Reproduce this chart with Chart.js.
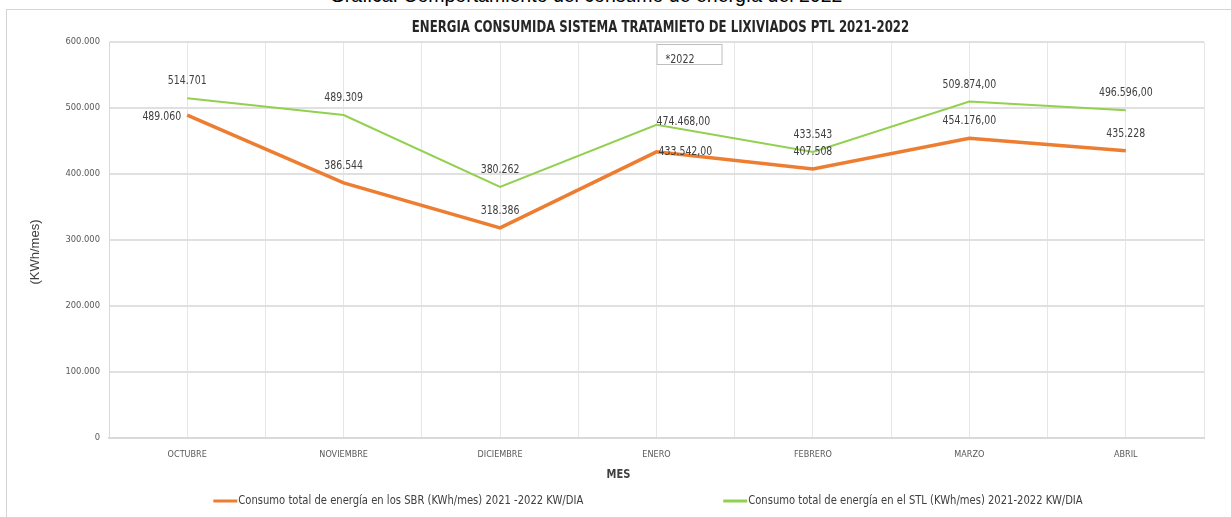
<!DOCTYPE html>
<html>
<head>
<meta charset="utf-8">
<script src="https://cdn.jsdelivr.net/npm/chart.js@4.4.0/dist/chart.umd.min.js"></script>
<style>
    html, body { margin: 0; padding: 0; background: #fff; overflow: hidden; }
    #wrap { position: relative; width: 1231px; height: 517px; overflow: hidden; }
    #caption { position: absolute; top: -16px; left: 0; width: 1172px; text-align: center;
               font: 19.5px 'Liberation Sans', Arial, sans-serif; color: #000; white-space: nowrap; }
    #frame { position: absolute; left: 6px; top: 9px; width: 1240px; height: 520px;
             border-top: 1px solid #d4d4d4; border-left: 1px solid #d4d4d4; }
    #chart { position: absolute; left: 0; top: 0; }
</style>
</head>
<body>
<div id="wrap">
    <div id="caption">Gráfica: Comportamiento del consumo de energía del 2022</div>
    <div id="frame"></div>
    <canvas id="chart" width="1231" height="517"></canvas>
</div>
<script>
// Data
const months = ['OCTUBRE', 'NOVIEMBRE', 'DICIEMBRE', 'ENERO', 'FEBRERO', 'MARZO', 'ABRIL'];
const sbrValues = [489060, 386544, 318386, 433542, 407508, 454176, 435228];
const stlValues = [514701, 489309, 380262, 474468, 433543, 509874, 496596];
const sbrLabels = ['489.060', '386.544', '318.386', '433.542,00', '407.508', '454.176,00', '435.228'];
const stlLabels = ['514.701', '489.309', '380.262', '474.468,00', '433.543', '509.874,00', '496.596,00'];
const yTickLabels = ['0', '100.000', '200.000', '300.000', '400.000', '500.000', '600.000'];

const narrow = "'Liberation Sans Narrow', 'DejaVu Sans Condensed', 'Liberation Sans', sans-serif";

// draw text squeezed horizontally (the source uses a tall condensed face)
function squishText(ctx, text, x, y, align, sx) {
    const w = ctx.measureText(text).width * sx;
    let left = x;
    if (align === 'center') left = x - w / 2;
    if (align === 'right') left = x - w;
    ctx.save();
    ctx.textAlign = 'left';
    ctx.translate(left, y);
    ctx.scale(sx, 1);
    ctx.fillText(text, 0, 0);
    ctx.restore();
    return w;
}

// Value labels next to each point
const pointLabels = {
    id: 'pointLabels',
    afterDatasetsDraw(chart, args, opts) {
        const ctx = chart.ctx;
        ctx.save();
        ctx.font = opts.font;
        ctx.fillStyle = opts.color;
        ctx.textBaseline = 'middle';
        chart.data.datasets.forEach(function(ds, di) {
            const meta = chart.getDatasetMeta(di);
            meta.data.forEach(function(pt, i) {
                const place = ds.labelPlace[i];
                const text = ds.valueLabels[i];
                if (place === 'left') {
                    squishText(ctx, text, pt.x - 6, pt.y + 2, 'right', opts.sx);
                } else if (place === 'right') {
                    squishText(ctx, text, pt.x, pt.y - 3, 'left', opts.sx);
                } else if (place === 'rightLow') {
                    squishText(ctx, text, pt.x + 2, pt.y, 'left', opts.sx);
                } else {
                    squishText(ctx, text, pt.x, pt.y - 17, 'center', opts.sx);
                }
            });
        });
        ctx.restore();
    }
};

// "*2022" note box above ENERO
const yearNote = {
    id: 'yearNote',
    afterDraw(chart, args, opts) {
        const ctx = chart.ctx;
        const x = chart.scales.x.getPixelForValue(opts.at);
        const top = chart.chartArea.top + 2;
        ctx.save();
        ctx.fillStyle = '#fff';
        ctx.fillRect(x, top, 65, 20);
        ctx.strokeStyle = '#bfbfbf';
        ctx.lineWidth = 1;
        ctx.strokeRect(x + 0.5, top + 0.5, 65, 20);
        ctx.font = '12.5px ' + narrow;
        ctx.fillStyle = '#404040';
        ctx.textBaseline = 'middle';
        squishText(ctx, opts.text, x + 9, top + 16, 'left', 0.85);
        ctx.restore();
    }
};

// Chart title and axis titles placed as in the reference
const captions = {
    id: 'captions',
    afterDraw(chart, args, opts) {
        const ctx = chart.ctx;
        const area = chart.chartArea;
        const mid = (area.left + area.right) / 2;
        ctx.save();
        ctx.textBaseline = 'middle';
        ctx.fillStyle = '#262626';
        ctx.font = 'bold 15px ' + narrow;
        squishText(ctx, opts.title, mid + 4, 28, 'center', 0.87);
        ctx.fillStyle = '#404040';
        ctx.font = 'bold 13px ' + narrow;
        squishText(ctx, opts.x, mid - 38, area.bottom + 37, 'center', 0.85);
        ctx.translate(35, (area.top + area.bottom) / 2 + 12);
        ctx.rotate(-Math.PI / 2);
        ctx.textAlign = 'center';
        ctx.font = "13px 'Liberation Sans', sans-serif";
        ctx.fillText(opts.y, 0, 0);
        ctx.restore();
    }
};

// Legend spread out below the axis title
const spreadLegend = {
    id: 'spreadLegend',
    afterDraw(chart, args, opts) {
        const ctx = chart.ctx;
        ctx.save();
        ctx.font = opts.font;
        ctx.textBaseline = 'middle';
        const items = chart.data.datasets.map(function(ds) {
            return { label: ds.label, color: ds.borderColor, w: 25 + ctx.measureText(ds.label).width * opts.sx };
        });
        const total = items.reduce(function(s, it) { return s + it.w; }, 0) + opts.gap * (items.length - 1);
        let x = opts.center - total / 2;
        items.forEach(function(it) {
            ctx.strokeStyle = it.color;
            ctx.lineWidth = 3;
            ctx.beginPath();
            ctx.moveTo(x, opts.y);
            ctx.lineTo(x + 24, opts.y);
            ctx.stroke();
            ctx.fillStyle = '#404040';
            squishText(ctx, it.label, x + 25, opts.y, 'left', opts.sx);
            x += it.w + opts.gap;
        });
        ctx.restore();
    }
};

const ctx = document.getElementById('chart');
new Chart(ctx, {
    type: 'line',
    data: {
        datasets: [
            {
                label: 'Consumo total de energía en los SBR (KWh/mes) 2021 -2022 KW/DIA',
                data: sbrValues.map(function(v, i) { return { x: i, y: v }; }),
                borderColor: '#ED7D31',
                backgroundColor: '#ED7D31',
                borderWidth: 3.5,
                pointRadius: 0,
                tension: 0,
                valueLabels: sbrLabels,
                labelPlace: ['left', 'above', 'above', 'rightLow', 'above', 'above', 'above']
            },
            {
                label: 'Consumo total de energía en el STL (KWh/mes) 2021-2022 KW/DIA',
                data: stlValues.map(function(v, i) { return { x: i, y: v }; }),
                borderColor: '#92D050',
                backgroundColor: '#92D050',
                borderWidth: 2,
                pointRadius: 0,
                tension: 0,
                valueLabels: stlLabels,
                labelPlace: ['above', 'above', 'above', 'right', 'above', 'above', 'above']
            }
        ]
    },
    options: {
        responsive: false,
        animation: false,
        layout: { padding: { left: 0, right: 27, top: 42, bottom: 30 } },
        plugins: {
            legend: { display: false },
            tooltip: { enabled: false },
            title: { display: false },
            pointLabels: { font: '12px ' + narrow, color: '#404040', sx: 0.87 },
            yearNote: { at: 3, text: '*2022' },
            captions: {
                title: 'ENERGIA CONSUMIDA SISTEMA TRATAMIETO DE LIXIVIADOS PTL 2021-2022',
                x: 'MES',
                y: '(KWh/mes)'
            },
            spreadLegend: { font: '12.5px ' + narrow, y: 501, center: 648, gap: 140, sx: 0.89 }
        },
        scales: {
            x: {
                type: 'linear',
                min: -0.5,
                max: 6.5,
                afterFit: function(scale) { scale.height = 49; },
                ticks: {
                    stepSize: 0.5,
                    autoSkip: false,
                    maxRotation: 0,
                    padding: 11,
                    color: '#595959',
                    font: { family: narrow, size: 9 },
                    callback: function(v) { return Number.isInteger(v) ? months[v] : ''; }
                },
                grid: { color: '#e6e6e6', lineWidth: 1, drawTicks: false },
                border: { color: '#d9d9d9', width: 2 }
            },
            y: {
                min: 0,
                max: 600000,
                afterFit: function(scale) { scale.width = 109; },
                ticks: {
                    stepSize: 100000,
                    padding: 9,
                    color: '#595959',
                    font: { family: narrow, size: 9.3 },
                    callback: function(v, i) { return yTickLabels[i]; }
                },
                grid: { color: '#e0e0e0', lineWidth: 2, drawTicks: false },
                border: { color: '#d9d9d9' }
            }
        }
    },
    plugins: [pointLabels, yearNote, captions, spreadLegend]
});
</script>
</body>
</html>
